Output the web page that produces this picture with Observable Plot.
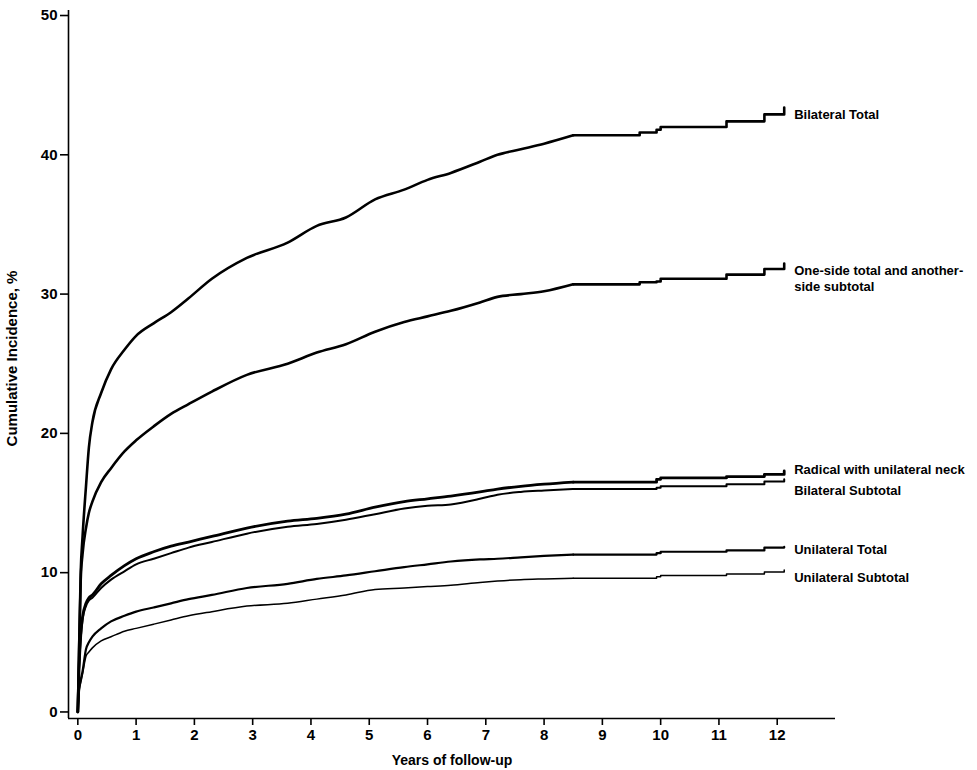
<!DOCTYPE html>
<html>
<head>
<meta charset="utf-8">
<script src="https://cdn.jsdelivr.net/npm/d3@7"></script>
<script src="https://cdn.jsdelivr.net/npm/@observablehq/plot@0.6"></script>
<style>
  html, body { margin: 0; padding: 0; background: #fff; }
  #chart svg { display: block; }
</style>
</head>
<body>
<div id="chart"></div>
<script>
// Follow-up time (years), shared by all series
const times = [0, 0.02, 0.05, 0.08, 0.14, 0.19, 0.25, 0.4, 0.57, 0.8, 1.0, 1.3, 1.6, 1.9, 2.3, 2.9, 3.6, 4.1, 4.6, 5.1, 5.6, 6.0, 6.4, 6.9, 7.2, 7.6, 8.0, 8.5, 9.64, 9.93, 10.0, 11.13, 11.78, 12.12];
// Time after which the curves are drawn as visible steps
const stepFrom = 8.5;

// Cumulative incidence (%) per series
const bilateralTotal   = [0, 4.1, 10.1, 12.5, 16.2, 19.0, 20.8, 22.9, 24.6, 26.0, 27.0, 27.9, 28.7, 29.7, 31.1, 32.6, 33.7, 34.9, 35.5, 36.8, 37.5, 38.2, 38.7, 39.5, 40.0, 40.4, 40.8, 41.4, 41.6, 41.8, 42.0, 42.4, 42.9, 43.4];
const oneSideTotal     = [0, 4.1, 9.5, 11.3, 13.2, 14.3, 15.1, 16.5, 17.5, 18.7, 19.5, 20.5, 21.4, 22.1, 23.0, 24.2, 25.0, 25.8, 26.4, 27.3, 28.0, 28.4, 28.8, 29.4, 29.8, 30.0, 30.2, 30.7, 30.85, 30.9, 31.1, 31.4, 31.8, 32.2];
const radicalNeck      = [0, 3.0, 5.5, 6.8, 7.8, 8.2, 8.4, 9.2, 9.8, 10.5, 11.0, 11.5, 11.9, 12.2, 12.6, 13.2, 13.7, 13.9, 14.2, 14.7, 15.1, 15.3, 15.5, 15.8, 16.0, 16.2, 16.35, 16.5, 16.5, 16.7, 16.8, 16.9, 17.05, 17.3];
const bilateralSubtotal= [0, 3.0, 5.3, 6.6, 7.6, 8.0, 8.2, 8.9, 9.5, 10.1, 10.6, 11.0, 11.4, 11.8, 12.2, 12.8, 13.3, 13.5, 13.8, 14.2, 14.6, 14.8, 14.9, 15.3, 15.6, 15.8, 15.9, 16.0, 16.0, 16.1, 16.2, 16.35, 16.55, 16.7];
const unilateralTotal  = [0, 1.5, 2.3, 2.9, 4.5, 5.0, 5.4, 6.0, 6.5, 6.9, 7.2, 7.5, 7.8, 8.1, 8.4, 8.9, 9.2, 9.55, 9.8, 10.1, 10.4, 10.6, 10.8, 10.95, 11.0, 11.1, 11.2, 11.3, 11.3, 11.4, 11.5, 11.6, 11.8, 11.85];
const unilateralSubtotal=[0, 1.4, 2.1, 2.7, 4.0, 4.3, 4.6, 5.1, 5.4, 5.8, 6.0, 6.3, 6.6, 6.9, 7.2, 7.6, 7.8, 8.1, 8.4, 8.8, 8.9, 9.0, 9.1, 9.3, 9.4, 9.5, 9.55, 9.6, 9.6, 9.7, 9.8, 9.9, 10.05, 10.2];

const seriesNames = ["Bilateral Total", "One-side total and another-\nside subtotal", "Radical with unilateral neck", "Bilateral Subtotal", "Unilateral Total", "Unilateral Subtotal"];
const seriesValues = [bilateralTotal, oneSideTotal, radicalNeck, bilateralSubtotal, unilateralTotal, unilateralSubtotal];

const xTicks = [0, 1, 2, 3, 4, 5, 6, 7, 8, 9, 10, 11, 12];
const yTicks = [0, 10, 20, 30, 40, 50];
const xTitle = "Years of follow-up";
const yTitle = "Cumulative Incidence, %";

// styles (not data)
const widths = [2.6, 2.6, 2.8, 2.0, 2.2, 1.5];
const labelDy = [0, 9, -5, 9, 1, 5];

const font = "'Liberation Sans', Arial, sans-serif";
const marks = [];

seriesValues.forEach((vals, i) => {
  const rows = times.map((t, j) => ({t, v: vals[j]}));
  marks.push(Plot.line(rows.filter(d => d.t <= stepFrom), {x: "t", y: "v", stroke: "black", strokeWidth: widths[i], curve: "monotone-x", strokeLinejoin: "round"}));
  marks.push(Plot.line(rows.filter(d => d.t >= stepFrom), {x: "t", y: "v", stroke: "black", strokeWidth: widths[i], curve: "step-after"}));
});

// series labels at the right end
const labelRows = seriesNames.map((name, i) => ({name, t: times[times.length - 1], v: seriesValues[i][times.length - 2], dy: labelDy[i]}));
labelRows.forEach(d => {
  marks.push(Plot.text([d], {x: "t", y: "v", text: "name", textAnchor: "start", lineAnchor: "middle", dx: 10, dy: d.dy, fontSize: 13, fontWeight: "bold", fill: "black", lineHeight: 1.2, fontFamily: font}));
});

marks.push(
  Plot.ruleX([-0.16], {stroke: "black", strokeWidth: 1.6}),
  Plot.ruleY([-0.47], {stroke: "black", strokeWidth: 1.6}),
  Plot.axisX({ticks: xTicks, tickSize: 7, tickPadding: 4, fontSize: 15, fontWeight: "bold", label: null, strokeWidth: 1.6, tickFormat: d => d}),
  Plot.axisY({ticks: yTicks, tickSize: 8, tickPadding: 3, fontSize: 15, fontWeight: "bold", label: null, strokeWidth: 1.6, tickFormat: d => d}),
  Plot.text([xTitle], {frameAnchor: "bottom", textAnchor: "middle", lineAnchor: "middle", dy: 42, fontSize: 14, fontWeight: "bold", fill: "black", fontFamily: font}),
  Plot.text([yTitle], {frameAnchor: "left", textAnchor: "middle", lineAnchor: "middle", dx: -56, dy: -6, rotate: -90, fontSize: 15, fontWeight: "bold", fill: "black", fontFamily: font})
);

const chart = Plot.plot({
  width: 977,
  height: 770,
  marginLeft: 68,
  marginRight: 142,
  marginTop: 10,
  marginBottom: 52,
  x: {domain: [-0.16, 13.0]},
  y: {domain: [-0.47, 50.36]},
  style: {fontFamily: font, color: "black", background: "white", overflow: "visible"},
  marks
});
document.getElementById("chart").appendChild(chart);
</script>
</body>
</html>
